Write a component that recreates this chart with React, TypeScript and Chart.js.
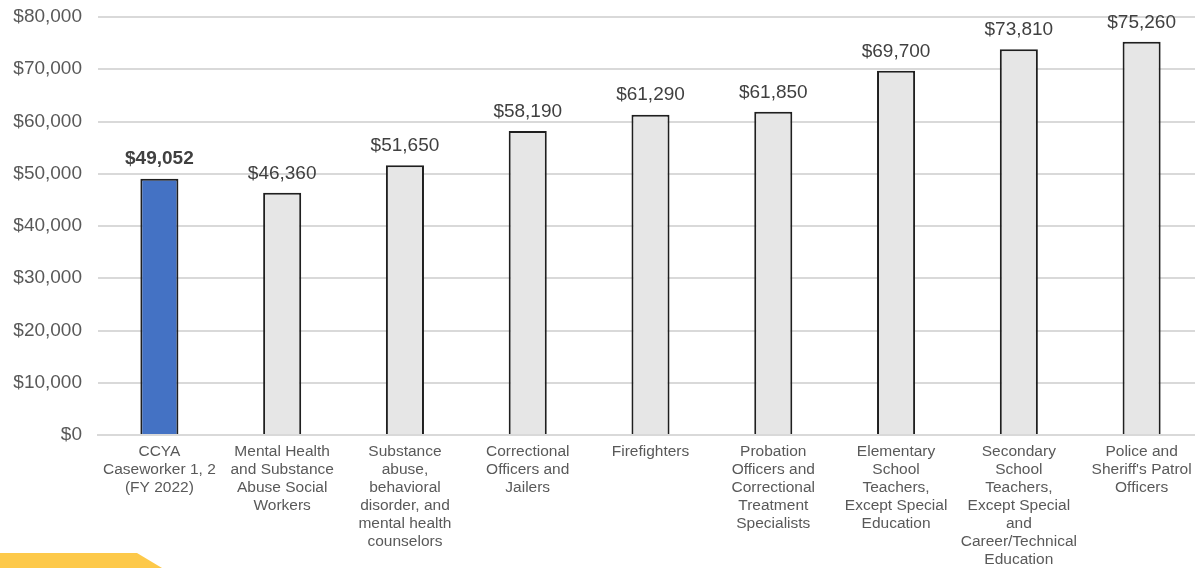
import React, { useEffect, useRef } from "react";
import { Chart, registerables } from "chart.js";

Chart.register(...registerables);

const categories: string[][] = [
  ["CCYA", "Caseworker 1, 2", "(FY 2022)"],
  ["Mental Health", "and Substance", "Abuse Social", "Workers"],
  ["Substance", "abuse,", "behavioral", "disorder, and", "mental health", "counselors"],
  ["Correctional", "Officers and", "Jailers"],
  ["Firefighters"],
  ["Probation", "Officers and", "Correctional", "Treatment", "Specialists"],
  ["Elementary", "School", "Teachers,", "Except Special", "Education"],
  ["Secondary", "School", "Teachers,", "Except Special", "and", "Career/Technical", "Education"],
  ["Police and", "Sheriff's Patrol", "Officers"],
];

const salaries: number[] = [49052, 46360, 51650, 58190, 61290, 61850, 69700, 73810, 75260];

const yTicks = { min: 0, max: 80000, step: 10000 };

const highlightColor = "#4472c4";
const otherColor = "#e6e6e6";
const FONT = '"Liberation Sans", Arial, sans-serif';

const fmt = (v: number) => "$" + v.toLocaleString("en-US");

const valueLabels = {
  id: "valueLabels",
  afterDatasetsDraw(chart: any) {
    const ctx = chart.ctx;
    const meta = chart.getDatasetMeta(0);
    ctx.save();
    ctx.textAlign = "center";
    ctx.textBaseline = "bottom";
    meta.data.forEach((bar: any, i: number) => {
      ctx.font = (i === 0 ? "bold " : "") + "19px " + FONT;
      ctx.fillStyle = "#404040";
      ctx.fillText(fmt(salaries[i]), bar.x, bar.y - 10);
    });
    ctx.restore();
  },
};

export default function App() {
  const ref = useRef<HTMLCanvasElement | null>(null);
  useEffect(() => {
    if (!ref.current) return;
    const chart = new Chart(ref.current, {
      type: "bar",
      data: {
        labels: categories,
        datasets: [
          {
            data: salaries,
            backgroundColor: salaries.map((_, i) => (i === 0 ? highlightColor : otherColor)),
            borderColor: "#1f1f1f",
            borderWidth: 2,
            barPercentage: 0.62,
            categoryPercentage: 0.5,
          },
        ],
      },
      options: {
        animation: false,
        responsive: true,
        maintainAspectRatio: false,
        layout: { padding: { left: 12, top: 17, right: 0, bottom: 0 } },
        plugins: { legend: { display: false }, tooltip: { enabled: false } },
        scales: {
          x: {
            grid: { display: false, drawTicks: false },
            border: { color: "#d9d9d9", width: 2 },
            afterFit: (scale: any) => {
              scale.paddingLeft = 0;
              scale.paddingRight = 0;
            },
            ticks: {
              color: "#595959",
              padding: 8,
              maxRotation: 0,
              autoSkip: false,
              font: { family: FONT, size: 15.5, lineHeight: "18px" },
            },
          },
          y: {
            min: yTicks.min,
            max: yTicks.max,
            grid: { color: "#d9d9d9", lineWidth: 2, drawTicks: false },
            border: { display: false },
            afterFit: (scale: any) => {
              scale.paddingTop = 0;
              scale.width = 86;
            },
            ticks: {
              stepSize: yTicks.step,
              padding: 16,
              color: "#595959",
              font: { family: FONT, size: 19 },
              callback: (v: any) => fmt(Number(v)),
            },
          },
        },
      },
      plugins: [valueLabels],
    });
    return () => chart.destroy();
  }, []);
  return (
    <div style={{ position: "fixed", left: 0, top: 0, width: 1195, height: 568, background: "#fff", overflow: "hidden" }}>
      <div style={{ position: "absolute", left: 0, top: 0, width: 1203, height: 577 }}>
        <canvas ref={ref} />
      </div>
      <div
        style={{
          position: "absolute",
          left: 0,
          bottom: 0,
          width: 162,
          height: 15,
          background: "#fdc94a",
          clipPath: "polygon(0 0, 137px 0, 162px 100%, 0 100%)",
        }}
      />
    </div>
  );
}
